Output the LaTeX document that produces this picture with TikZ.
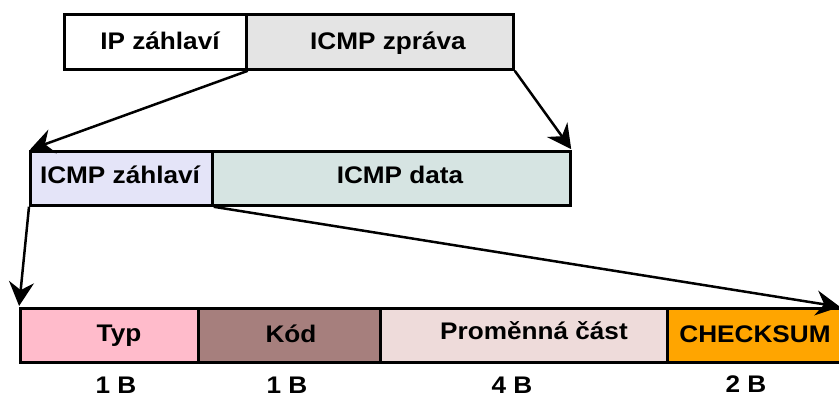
\documentclass[tikz,border=0pt]{standalone}
\usepackage{fontspec}
\setmainfont[FakeStretch=1.09]{Liberation Sans}
\usetikzlibrary{arrows.meta}
\definecolor{cGrey}{HTML}{E4E4E4}
\definecolor{cLav}{HTML}{E4E4F8}
\definecolor{cTeal}{HTML}{D6E4E2}
\definecolor{cPink}{HTML}{FFBBCB}
\definecolor{cBrown}{HTML}{A67F7D}
\definecolor{cRose}{HTML}{EEDBDA}
\definecolor{cOrange}{HTML}{FFA500}
\tikzset{
  cell/.style={draw=black,line width=2.8pt,inner sep=0pt},
  lab/.style={font=\fontsize{24}{27}\selectfont\bfseries,inner sep=0pt,anchor=base},
  conn/.style={draw=black,line width=2.5pt,-{Stealth[length=24pt,width=25pt,inset=8pt]},shorten >=1pt}
}
\newcommand{\cellat}[6]{% name, x1, y1, x2, y2, fill
  \node[cell,fill=#6,minimum width=#4pt-#2pt,minimum height=#5pt-#3pt,anchor=north west] (#1) at (#2,#3) {};
}
\begin{document}
\begin{tikzpicture}[x=1pt,y=-1pt]
\useasboundingbox (0,0) rectangle (839,398);
\fill[white] (0,0) rectangle (839,398);
\cellat{ip}{63}{13}{245}{68}{white}
\cellat{zprava}{245}{13}{512}{68}{cGrey}
\cellat{zahl}{29}{150}{211}{204}{cLav}
\cellat{data}{211}{150}{569}{204}{cTeal}
\cellat{typ}{19}{307}{197}{361}{cPink}
\cellat{kod}{197}{307}{379}{361}{cBrown}
\cellat{prom}{379}{307}{666}{361}{cRose}
\cellat{check}{666}{307}{845}{361}{cOrange}
\node[lab] (t1) at (160,50) {IP záhlaví};
\node[lab] (t2) at (388,50) {ICMP zpráva};
\node[lab] (t3) at (120,184) {ICMP záhlaví};
\node[lab] (t4) at (400,184) {ICMP data};
\node[lab] (t5) at (119,342) {Typ};
\node[lab] (t6) at (291,343) {Kód};
\node[lab] (t7) at (534,340) {Proměnná část};
\node[lab] (t8) at (755,343) {CHECKSUM};
\node[lab] (s1) at (116,393) {1 B};
\node[lab] (s2) at (287,393) {1 B};
\node[lab] (s3) at (512,393) {4 B};
\node[lab] (s4) at (746,392) {2 B};
\coordinate (a1) at (ip.south east);
\coordinate (a2) at (zahl.north west);
\coordinate (b1) at (zprava.south east);
\coordinate (b2) at (data.north east);
\coordinate (c1) at (zahl.south west);
\coordinate (c2) at (typ.north west);
\coordinate (d1) at (zahl.south east);
\coordinate (d2) at (841,307);
\draw[conn] (a1) -- (a2);
\draw[conn] (b1) -- (b2);
\draw[conn] (c1) -- (c2);
\draw[conn] (d1) -- (d2);
\end{tikzpicture}
\end{document}
